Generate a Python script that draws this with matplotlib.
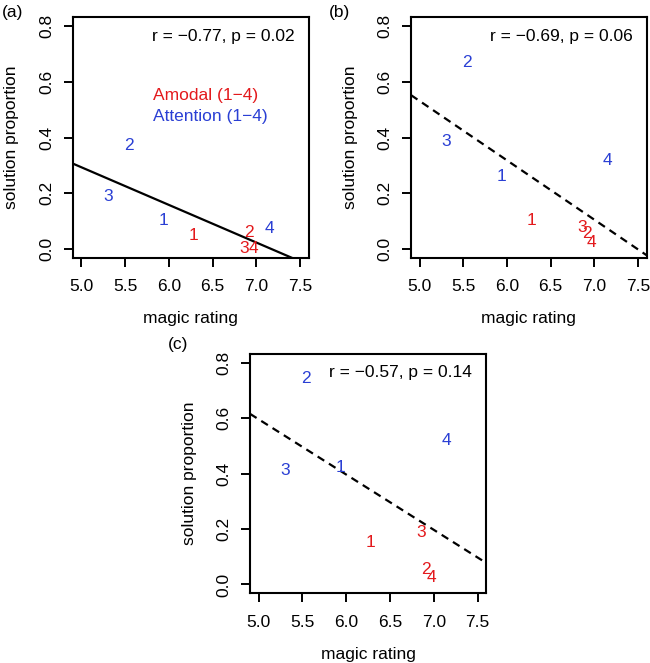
import matplotlib
matplotlib.use("Agg")
import matplotlib.pyplot as plt

plt.rcParams["font.family"] = ["Liberation Sans", "DejaVu Sans"]

# magic ratings (same in all panels)
amodal_x = [6.28, 6.915, 6.86, 6.97]
attention_x = [5.94, 5.545, 5.305, 7.15]
labels = ["1", "2", "3", "4"]

# solution proportions per panel
amodal_a = [0.048, 0.057, 0.0, 0.0]
attention_a = [0.100, 0.371, 0.189, 0.072]
amodal_b = [0.100, 0.054, 0.078, 0.024]
attention_b = [0.261, 0.671, 0.385, 0.318]
amodal_c = [0.152, 0.054, 0.186, 0.024]
attention_c = [0.422, 0.745, 0.413, 0.521]

# fitted lines: (value at x=5, slope)
fit_a = (0.293, -0.1353)
fit_b = (0.531, -0.2132)
fit_c = (0.596, -0.1994)

stats = ["r = \u22120.77, p = 0.02", "r = \u22120.69, p = 0.06", "r = \u22120.57, p = 0.14"]

RED = "#e3191c"
BLUE = "#2a3fd4"
FS = 12.5

fig = plt.figure(figsize=(6.5, 6.63), dpi=100)
ax1 = fig.add_axes([0.1118, 0.6113, 0.3635, 0.3626])
ax2 = fig.add_axes([0.6323, 0.6113, 0.3626, 0.3626])
ax3 = fig.add_axes([0.3846, 0.1051, 0.3635, 0.361])


def panel(ax, am, at, fit, style, stat, tag, tagpos):
    ax.set_xlim(4.9, 7.6)
    ax.set_ylim(-0.032, 0.832)
    ax.axline((5.0, fit[0]), slope=fit[1], color="black", lw=1.6,
              ls=style, dashes=(3.5, 2.5) if style == "--" else (None, None))
    for x, y, s in zip(amodal_x, am, labels):
        ax.text(x, y, s, color=RED, fontsize=FS, ha="center", va="center")
    for x, y, s in zip(attention_x, at, labels):
        ax.text(x, y, s, color=BLUE, fontsize=FS, ha="center", va="center")
    ax.text(7.44, 0.764, stat, fontsize=FS, ha="right", va="center")
    ax.set_xticks([5.0, 5.5, 6.0, 6.5, 7.0, 7.5])
    ax.set_xticklabels(["5.0", "5.5", "6.0", "6.5", "7.0", "7.5"])
    ax.set_yticks([0.0, 0.2, 0.4, 0.6, 0.8])
    ax.set_yticklabels(["0.0", "0.2", "0.4", "0.6", "0.8"], rotation=90, va="center")
    ax.tick_params(direction="out", length=6.5, width=1.4, labelsize=FS)
    ax.tick_params(axis="x", pad=9)
    ax.tick_params(axis="y", pad=7)
    for sp in ax.spines.values():
        sp.set_linewidth(1.5)
    ax.set_xlabel("magic rating", fontsize=FS, labelpad=12)
    ax.set_ylabel("solution proportion", fontsize=FS, labelpad=14)
    fig.text(tagpos[0], tagpos[1], tag, fontsize=FS, ha="center", va="center")


panel(ax1, amodal_a, attention_a, fit_a, "-", stats[0], "(a)", (13 / 650, 1 - 13 / 663))
panel(ax2, amodal_b, attention_b, fit_b, "--", stats[1], "(b)", (339 / 650, 1 - 13 / 663))
panel(ax3, amodal_c, attention_c, fit_c, "--", stats[2], "(c)", (178 / 650, 1 - 345 / 663))

ax1.text(5.82, 0.55, "Amodal (1\u22124)", color=RED, fontsize=FS, ha="left", va="center")
ax1.text(5.82, 0.475, "Attention (1\u22124)", color=BLUE, fontsize=FS, ha="left", va="center")

fig.savefig("out.png", dpi=100)
